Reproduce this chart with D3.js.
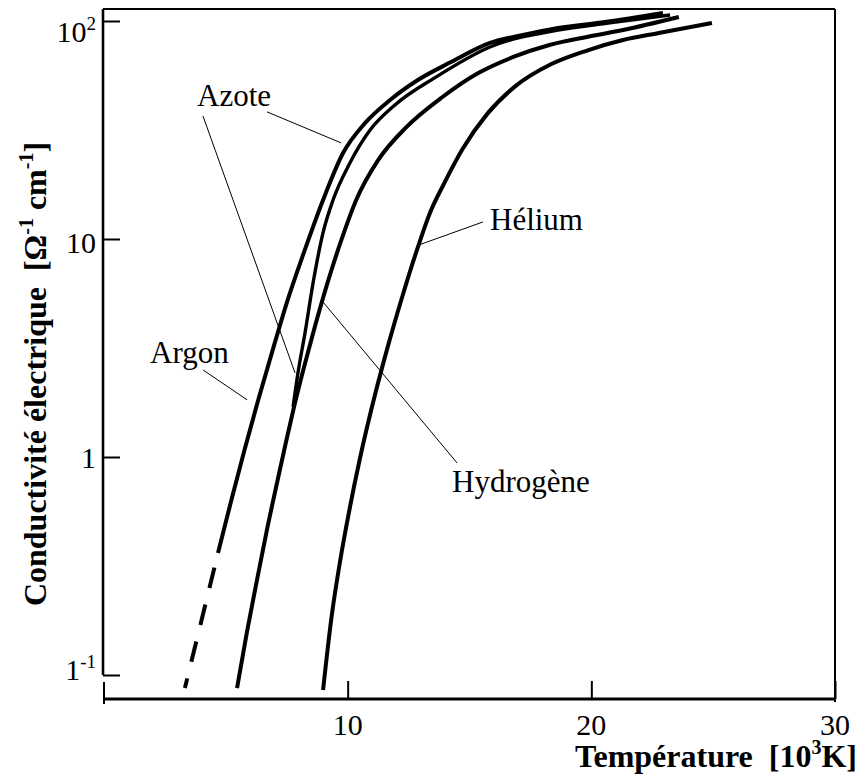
<!DOCTYPE html>
<html>
<head>
<meta charset="utf-8">
<script src="https://cdn.jsdelivr.net/npm/d3@7"></script>
<style>
  body { margin: 0; background: #fff; }
</style>
</head>
<body>
<svg id="chart" width="863" height="780" font-family="'Liberation Serif', 'Times New Roman', Times, 'DejaVu Serif', serif"></svg>
<script>
// Temperature in 10^3 K, conductivity in ohm^-1 cm^-1
const argonT = [4.68, 5.22, 5.76, 6.32, 6.91, 7.52, 8.22, 8.99, 9.81, 10.71, 11.74, 12.88, 14.24, 15.84, 17.19, 18.63, 20.56, 22.94];
const argonS = [0.363, 0.63, 1.07, 1.81, 3.06, 5.18, 8.77, 15.1, 24.8, 34.0, 43.4, 53.6, 64.8, 79.3, 86.3, 92.9, 98.9, 108.8];

// extrapolated (dashed) low end of the argon curve
const argonDashT = [3.32, 4.00, 4.68];
const argonDashS = [0.0871, 0.178, 0.363];

const azoteT = [7.76, 7.96, 8.25, 8.58, 8.99, 9.40, 10.09, 10.92, 11.94, 13.62, 15.84, 18.63, 20.76, 23.23];
const azoteS = [1.70, 2.43, 3.71, 6.28, 10.7, 15.1, 22.3, 31.6, 41.2, 55.3, 76.0, 90.9, 98.0, 106.6];

const hydrogeneT = [5.46, 5.86, 6.28, 6.66, 7.10, 7.46, 7.80, 8.21, 8.65, 9.17, 9.70, 10.35, 11.25, 12.41, 13.89, 15.36, 16.80, 18.28, 19.82, 21.30, 23.59];
const hydrogeneS = [0.0871, 0.156, 0.273, 0.448, 0.760, 1.16, 1.70, 2.59, 3.95, 6.28, 9.59, 15.1, 23.0, 32.6, 44.8, 57.7, 68.4, 77.6, 84.5, 90.9, 104.3];

const heliumT = [8.99, 9.34, 9.70, 10.07, 10.49, 11.07, 11.61, 12.20, 12.91, 13.38, 13.95, 14.69, 15.72, 16.86, 18.34, 19.82, 21.30, 22.77, 24.95];
const heliumS = [0.0853, 0.185, 0.338, 0.571, 0.969, 1.83, 3.10, 5.25, 9.38, 13.2, 17.9, 25.6, 37.4, 50.0, 63.3, 73.2, 81.8, 88.1, 98.0];

// axis ticks
const xTicks = [10, 20, 30];
const yTicks = [0.1, 1, 10, 100];
const yTickBase = ["1", "1", "10", "10"];
const yTickSup = ["-1", "", "", "2"];

// labels and their leader lines: [T, S] of the label end and of the curve end
const labelNames = ["Azote", "Argon", "Hélium", "Hydrogène"];
const leaders = [
  [[6.69, 38.3], [9.73, 27.6]],
  [[4.06, 36.7], [7.84, 2.43]],
  [[4.06, 2.51], [5.87, 1.83]],
  [[15.55, 11.97], [12.91, 9.38]],
  [[14.49, 0.939], [8.92, 5.25]]
];

const width = 863;
const height = 780;
const frameLeft = 103, frameRight = 835, frameTop = 9, frameBottom = 699;
// the printed tick labels do not sit exactly on their ticks
const yLabelNudge = [-6, 0, 3, 10];

const svg = d3.select("#chart");

const x = d3.scaleLinear().domain([0, 30]).range([104, 835]);
const y = d3.scaleLog().domain([0.1, 100]).range([675, 21]);

// frame
const frame = svg.append("g").attr("stroke", "#000").attr("fill", "none");
frame.append("line").attr("x1", frameLeft).attr("x2", frameRight).attr("y1", frameTop).attr("y2", frameTop).attr("stroke-width", 2);
frame.append("line").attr("x1", frameRight).attr("x2", frameRight).attr("y1", frameTop).attr("y2", frameBottom + 3).attr("stroke-width", 2);
frame.append("line").attr("x1", frameLeft).attr("x2", frameLeft).attr("y1", frameTop).attr("y2", y(0.1)).attr("stroke-width", 2.6);
frame.append("line").attr("x1", x(0)).attr("x2", frameRight).attr("y1", frameBottom).attr("y2", frameBottom).attr("stroke-width", 3);
frame.append("line").attr("x1", x(0)).attr("x2", x(0)).attr("y1", frameBottom - 17).attr("y2", frameBottom + 5).attr("stroke-width", 2);

// x axis ticks (pointing up inside the frame)
svg.append("g")
  .attr("transform", `translate(0,${frameBottom})`)
  .call(d3.axisBottom(x).tickValues(xTicks).tickSize(-18).tickSizeOuter(0).tickFormat(""))
  .call(g => g.select(".domain").remove())
  .call(g => g.selectAll(".tick line").attr("stroke-width", 2));

svg.append("g").selectAll("text")
  .data(xTicks)
  .join("text")
  .attr("x", d => x(d))
  .attr("y", frameBottom + 36)
  .attr("text-anchor", "middle")
  .attr("font-size", 30)
  .text(d => d);

// y axis ticks (pointing right inside the frame)
svg.append("g")
  .attr("transform", `translate(${frameLeft},0)`)
  .call(d3.axisLeft(y).tickValues(yTicks).tickSize(-17).tickSizeOuter(0).tickFormat(""))
  .call(g => g.select(".domain").remove())
  .call(g => g.selectAll(".tick line").attr("stroke-width", 2));

const yLab = svg.append("g").selectAll("text")
  .data(yTicks)
  .join("text")
  .attr("x", 96)
  .attr("y", (d, i) => y(d) + 11 + yLabelNudge[i])
  .attr("text-anchor", "end")
  .attr("font-size", 30);
yLab.append("tspan").text((d, i) => yTickBase[i]);
yLab.append("tspan")
  .attr("dy", -12)
  .attr("font-size", 19)
  .text((d, i) => yTickSup[i]);

// curves
const line = d3.line()
  .x(d => x(d[0]))
  .y(d => y(d[1]))
  .curve(d3.curveMonotoneX);

const zip = (t, s) => t.map((v, i) => [v, s[i]]);

const curves = [
  { pts: zip(argonT, argonS), w: 4, dash: null, offset: 0 },
  { pts: zip(argonDashT, argonDashS), w: 4, dash: "21,17", offset: 11 },
  { pts: zip(hydrogeneT, hydrogeneS), w: 4, dash: null, offset: 0 },
  { pts: zip(azoteT, azoteS), w: 3.4, dash: null, offset: 0 },
  { pts: zip(heliumT, heliumS), w: 4, dash: null, offset: 0 }
];

svg.append("g").selectAll("path")
  .data(curves)
  .join("path")
  .attr("d", d => line(d.pts))
  .attr("fill", "none")
  .attr("stroke", "#000")
  .attr("stroke-width", d => d.w)
  .attr("stroke-dasharray", d => d.dash)
  .attr("stroke-dashoffset", d => d.offset);

// leader lines
svg.append("g").selectAll("line")
  .data(leaders)
  .join("line")
  .attr("x1", d => x(d[0][0]))
  .attr("y1", d => y(d[0][1]))
  .attr("x2", d => x(d[1][0]))
  .attr("y2", d => y(d[1][1]))
  .attr("stroke", "#000")
  .attr("stroke-width", 1);

// gas labels
const labelPos = [[197, 106], [150, 363], [490, 230], [452, 492]];
svg.append("g").selectAll("text")
  .data(labelNames)
  .join("text")
  .attr("x", (d, i) => labelPos[i][0])
  .attr("y", (d, i) => labelPos[i][1])
  .attr("font-size", 31)
  .text(d => d);

// axis titles
const xt = svg.append("text")
  .attr("x", 857)
  .attr("y", 767)
  .attr("text-anchor", "end")
  .attr("font-size", 32)
  .attr("font-weight", "bold");
xt.append("tspan").text("Température");
xt.append("tspan").attr("dx", 16).text("[10");
xt.append("tspan").attr("dy", -13).attr("font-size", 20).text("3");
xt.append("tspan").attr("dy", 13).text("K]");

const yt = svg.append("text")
  .attr("transform", "translate(46,374) rotate(-90)")
  .attr("text-anchor", "middle")
  .attr("font-size", 32)
  .attr("font-weight", "bold");
yt.append("tspan").text("Conductivité électrique");
yt.append("tspan").attr("dx", 16).text("[Ω");
yt.append("tspan").attr("dy", -13).attr("font-size", 20).text("-1");
yt.append("tspan").attr("dy", 13).text(" cm");
yt.append("tspan").attr("dy", -13).attr("font-size", 20).text("-1");
yt.append("tspan").attr("dy", 13).text("]");
</script>
</body>
</html>
